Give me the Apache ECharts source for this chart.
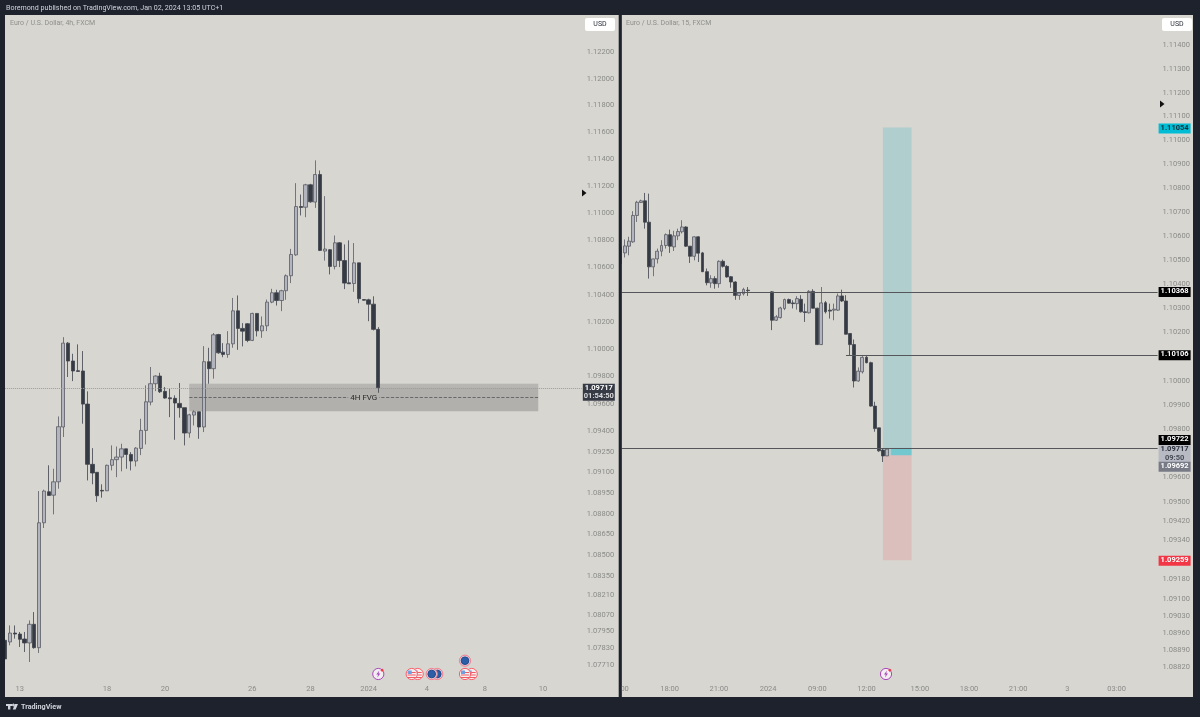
<!DOCTYPE html>
<html>
<head>
<meta charset="utf-8">
<title>EURUSD</title>
<script src="https://cdn.jsdelivr.net/npm/echarts@6/dist/echarts.min.js"></script>
<style>
html,body{margin:0;padding:0;background:#1e222d;}
#main{width:1200px;height:717px;}
</style>
</head>
<body>
<div id="main"></div>
<script>
// 4h panel
const leftOpen = [1.07887,1.07875,1.07939,1.07932,1.07896,1.07868,1.08002,1.07834,1.08735,1.08960,1.08935,1.09032,1.09431,1.10044,1.09913,1.09842,1.09840,1.09598,1.09159,1.09101,1.08970,1.08967,1.09152,1.09193,1.09212,1.09272,1.09231,1.09183,1.09275,1.09406,1.09613,1.09747,1.09803,1.09691,1.09644,1.09640,1.09603,1.09572,1.09387,1.09518,1.09542,1.09431,1.09908,1.09857,1.10107,1.09978,1.09961,1.10039,1.10281,1.10152,1.10186,1.10064,1.10262,1.10134,1.10171,1.10345,1.10414,1.10357,1.10429,1.10539,1.10693,1.11050,1.11045,1.11211,1.11083,1.11287,1.10721,1.10731,1.10608,1.10782,1.10651,1.10487,1.10482,1.10634,1.10364,1.10362,1.10330,1.10145];
const leftClose = [1.07753,1.07939,1.07932,1.07894,1.07868,1.08002,1.07834,1.08735,1.08965,1.08933,1.09032,1.09433,1.10044,1.09913,1.09840,1.09837,1.09598,1.09159,1.09096,1.08931,1.08965,1.09152,1.09193,1.09212,1.09272,1.09231,1.09183,1.09277,1.09406,1.09615,1.09747,1.09803,1.09688,1.09642,1.09637,1.09606,1.09572,1.09387,1.09520,1.09542,1.09431,1.09908,1.09857,1.10105,1.09973,1.09961,1.10039,1.10281,1.10152,1.10132,1.10064,1.10262,1.10134,1.10171,1.10345,1.10414,1.10357,1.10429,1.10539,1.10696,1.11050,1.11043,1.11211,1.11085,1.11287,1.10726,1.10736,1.10608,1.10782,1.10651,1.10485,1.10480,1.10634,1.10370,1.10359,1.10330,1.10145,1.09717];
const leftLow = [1.07730,1.07851,1.07899,1.07839,1.07803,1.07731,1.07827,1.07796,1.08697,1.08933,1.08796,1.08982,1.09358,1.09796,1.09766,1.09837,1.09455,1.09042,1.09014,1.08886,1.08917,1.08965,1.09115,1.09066,1.09108,1.09127,1.09115,1.09144,1.09226,1.09304,1.09589,1.09693,1.09679,1.09637,1.09503,1.09338,1.09499,1.09297,1.09353,1.09442,1.09345,1.09394,1.09747,1.09784,1.09966,1.09941,1.09937,1.10010,1.09995,1.10020,1.10051,1.10059,1.10093,1.10083,1.10132,1.10337,1.10320,1.10279,1.10362,1.10485,1.10686,1.10984,1.10971,1.11078,1.11040,1.10721,1.10651,1.10549,1.10586,1.10603,1.10441,1.10480,1.10421,1.10337,1.10357,1.10205,1.10137,1.09661];
const leftHigh = [1.07950,1.07994,1.07994,1.07947,1.07947,1.08030,1.08090,1.08965,1.08975,1.09152,1.09127,1.09508,1.10088,1.10052,1.09966,1.10035,1.09986,1.09691,1.09277,1.09101,1.09014,1.09157,1.09297,1.09289,1.09309,1.09272,1.09248,1.09284,1.09491,1.09735,1.09869,1.09808,1.09827,1.09723,1.09710,1.09662,1.09752,1.09572,1.09528,1.09552,1.09542,1.10022,1.10010,1.10118,1.10112,1.10044,1.10132,1.10376,1.10394,1.10191,1.10191,1.10267,1.10262,1.10240,1.10364,1.10443,1.10436,1.10436,1.10549,1.10737,1.11223,1.11139,1.11218,1.11218,1.11392,1.11317,1.11127,1.10736,1.10836,1.10787,1.10770,1.10800,1.10780,1.10634,1.10366,1.10370,1.10388,1.10161];
const leftPriceTicks = [1.122,1.12,1.118,1.116,1.114,1.112,1.11,1.108,1.106,1.104,1.102,1.1,1.098,1.096,1.094,1.0925,1.091,1.0895,1.088,1.0865,1.085,1.0835,1.0821,1.0807,1.0795,1.0783,1.0771];
const leftTimeBars = [3,21,33,51,63,75,87,99,111];
const leftTimeLabels = ['13','18','20','26','28','2024','4','8','10'];

// 15m panel, bars 32-36 have no data
const rightOpen = [1.10556,1.10531,1.10559,1.10577,1.10687,1.10741,1.10748,1.10659,1.10473,1.10506,1.10538,1.10562,1.10607,1.10556,1.10602,1.10619,1.10639,1.10559,1.10517,1.10598,1.10531,1.10453,1.10406,1.10424,1.10403,1.10496,1.10475,1.10432,1.10410,1.10354,1.10361,1.10376,null,null,null,null,null,1.10369,1.10251,1.10262,1.10300,1.10337,1.10323,1.10320,1.10338,1.10286,1.10282,1.10371,1.10301,1.10150,1.10324,1.10293,1.10293,1.10293,1.10352,1.10331,1.10196,1.10150,1.09999,1.10037,1.10097,1.10075,1.09895,1.09805,1.09713,1.09689];
const rightClose = [1.10487,1.10560,1.10580,1.10687,1.10742,1.10748,1.10659,1.10473,1.10506,1.10538,1.10562,1.10607,1.10559,1.10602,1.10620,1.10639,1.10559,1.10517,1.10598,1.10530,1.10453,1.10407,1.10424,1.10403,1.10496,1.10475,1.10431,1.10410,1.10354,1.10364,1.10379,1.10374,null,null,null,null,null,1.10251,1.10265,1.10302,1.10337,1.10322,1.10320,1.10341,1.10286,1.10283,1.10371,1.10301,1.10150,1.10323,1.10286,1.10289,1.10297,1.10352,1.10331,1.10193,1.10150,1.09999,1.10040,1.10097,1.10075,1.09895,1.09802,1.09710,1.09689,1.09717];
const rightLow = [1.10480,1.10512,1.10521,1.10573,1.10660,1.10739,1.10632,1.10424,1.10434,1.10487,1.10517,1.10549,1.10531,1.10539,1.10584,1.10612,1.10556,1.10489,1.10500,1.10493,1.10451,1.10396,1.10386,1.10382,1.10386,1.10470,1.10428,1.10386,1.10336,1.10336,1.10354,1.10352,null,null,null,null,null,1.10210,1.10248,1.10258,1.10293,1.10320,1.10300,1.10295,1.10283,1.10244,1.10279,1.10300,1.10148,1.10148,1.10279,1.10258,1.10251,1.10290,1.10327,1.10192,1.10106,1.09972,1.09996,1.10030,1.10072,1.09893,1.09789,1.09706,1.09664,1.09689];
const rightHigh = [1.10570,1.10587,1.10598,1.10705,1.10748,1.10753,1.10781,1.10778,1.10507,1.10549,1.10584,1.10612,1.10628,1.10623,1.10632,1.10667,1.10642,1.10559,1.10600,1.10600,1.10535,1.10466,1.10438,1.10434,1.10500,1.10503,1.10480,1.10435,1.10413,1.10367,1.10386,1.10389,null,null,null,null,null,1.10372,1.10272,1.10307,1.10341,1.10341,1.10334,1.10351,1.10355,1.10320,1.10376,1.10380,1.10303,1.10389,1.10331,1.10320,1.10320,1.10362,1.10378,1.10355,1.10196,1.10171,1.10055,1.10102,1.10105,1.10079,1.09913,1.09805,1.09720,1.09722];
const rightPriceTicks = [1.114,1.113,1.112,1.111,1.11,1.109,1.108,1.107,1.106,1.105,1.104,1.103,1.102,1.1,1.099,1.098,1.096,1.095,1.0942,1.0934,1.0918,1.091,1.0903,1.0896,1.0889,1.0882];
const rightTimeBars = [1,12,24,36,48,60,73,85,97,109,121];
const rightTimeLabels = ['00','18:00','21:00','2024','09:00','12:00','15:00','18:00','21:00','3','03:00'];

// drawn levels and tool
const fvgTop = 1.09747, fvgMid = 1.09648, fvgBottom = 1.09546;
const lastPrice = 1.09717;
const targetPrice = 1.11054, entryPrice = 1.09692, stopPrice = 1.09259;
const levelA = 1.10368, levelB = 1.10106, levelC = 1.09722;

const FONT = 'Roboto, "Noto Sans", sans-serif';
const BG = '#d7d6d1', DARK = '#1e222d', AXIS_TEXT = '#8b8b88';

function bars(o, c, l, h) {
  return o.map(function (v, i) { return [v, c[i], l[i], h[i]]; });
}
function indexList(n) {
  let r = [];
  for (let i = 0; i < n; i++) r.push(String(i));
  return r;
}
// price tag sitting on the axis at the end of a level line
function tag(value, text, bg, color, dy, lineStyle, fromBar, toBar) {
  return [{
    coord: [fromBar, value],
    lineStyle: lineStyle || { color: 'transparent', width: 0 },
    label: {
      show: true, position: 'end', distance: 1, formatter: text, offset: [0, dy],
      backgroundColor: bg, color: color, width: 32, height: dy === 4.5 ? 17 : 10,
      lineHeight: 8.5, align: 'left', fontFamily: FONT, fontSize: 7.5, fontWeight: 'bold',
      padding: [0, 0, 0, 0],
      rich: {
        c: { color: color, fontSize: 7.5, fontWeight: 'bold', fontFamily: FONT, width: 32, align: 'center' },
        t: { color: color, fontSize: 7.5, fontFamily: FONT, width: 32, align: 'center', opacity: .8 }
      }
    }
  }, { coord: [toBar, value] }];
}

const LAST_L = 119, LAST_R = 131;
const tv = { type: 'solid', color: '#55565a', width: 1 };
const candleStyle = { color: '#b2b5be', color0: '#363a45', borderColor: '#5a5c64', borderColor0: '#3f424b', borderWidth: .8 };

const option = {
  animation: false,
  backgroundColor: DARK,
  grid: [
    { left: 5.15, top: 15, width: 4.846 * LAST_L, height: 665, containLabel: false },
    { left: 620.5, top: 15, width: 4.1 * LAST_R, height: 665, containLabel: false }
  ],
  xAxis: [0, 1].map(function (i) {
    const t = i === 0 ? [LAST_L, leftTimeBars, leftTimeLabels] : [LAST_R, rightTimeBars, rightTimeLabels];
    return {
      type: 'category', gridIndex: i, boundaryGap: false, data: indexList(t[0] + 1),
      axisLine: { show: false }, axisTick: { show: false }, splitLine: { show: false },
      axisLabel: {
        customValues: t[1], margin: 5, color: AXIS_TEXT, fontSize: 7.5, fontFamily: FONT,
        hideOverlap: false,
        formatter: function (v) { return t[2][t[1].indexOf(+v)]; }
      }
    };
  }),
  yAxis: [
    { gridIndex: 0, min: 1.07602, max: 1.12476, ticks: leftPriceTicks },
    { gridIndex: 1, min: 1.08767, max: 1.11526, ticks: rightPriceTicks }
  ].map(function (a) {
    return {
      type: 'log', logBase: 10, gridIndex: a.gridIndex, position: 'right', min: a.min, max: a.max, scale: true,
      axisLine: { show: false }, axisTick: { show: false }, splitLine: { show: false },
      axisLabel: {
        customValues: a.ticks, margin: 5, color: AXIS_TEXT, fontSize: 7.5, fontFamily: FONT,
        formatter: function (v) { return (+v).toFixed(5); }
      }
    };
  }),
  series: [
    {
      type: 'candlestick', name: '4h', xAxisIndex: 0, yAxisIndex: 0, barWidth: 3.8,
      data: bars(leftOpen, leftClose, leftLow, leftHigh),
      itemStyle: candleStyle,
      markArea: {
        silent: true, z: 1,
        data: [
          [{ coord: [38, fvgTop], itemStyle: { color: 'rgba(90,90,90,.3)' } }, { coord: [110, fvgBottom] }],
          [{ coord: [38, fvgTop], itemStyle: { color: 'rgba(255,255,255,.08)' } }, { coord: [110, lastPrice] }]
        ]
      },
      markLine: {
        silent: true, symbol: 'none', animation: false,
        data: [
          [{
            coord: [38, fvgMid], lineStyle: { type: 'dashed', color: '#55565a', width: .8 },
            label: { show: true, position: 'middle', formatter: '4H FVG', offset: [0, 10.5], color: '#2a2a2a', fontSize: 8, fontFamily: FONT, backgroundColor: '#b2b1ae', padding: [1, 2] }
          }, { coord: [110, fvgMid] }],
          tag(lastPrice, '{c|1.09717}\n{t|01:54:50}', '#363a45', '#fff', 4.5, { type: 'dotted', color: '#9c9c98', width: 1 }, 0, LAST_L)
        ]
      }
    },
    {
      type: 'candlestick', name: '15', xAxisIndex: 1, yAxisIndex: 1, barWidth: 3.4,
      data: bars(rightOpen, rightClose, rightLow, rightHigh),
      itemStyle: candleStyle,
      markArea: {
        silent: true, z: 1,
        data: [
          [{ coord: [64, targetPrice], itemStyle: { color: 'rgba(0,170,190,.18)' } }, { coord: [71, entryPrice] }],
          [{ coord: [64, entryPrice], itemStyle: { color: 'rgba(240,80,90,.17)' } }, { coord: [71, stopPrice] }],
          [{ coord: [66, levelC], itemStyle: { color: 'rgba(0,190,210,.35)' } }, { coord: [71, entryPrice] }]
        ]
      },
      markLine: {
        silent: true, symbol: 'none', animation: false,
        data: [
          tag(levelA, '{c|1.10368}', '#000', '#fff', 0, tv, 0, LAST_R),
          tag(levelB, '{c|1.10106}', '#000', '#fff', 0, tv, 55, LAST_R),
          tag(levelC, '{c|1.09722}', '#000', '#fff', -8, tv, 0, LAST_R),
          tag(lastPrice, '{c|1.09717}\n{t|09:50}', '#b7bac3', '#2a2e39', 4.5, null, 0, LAST_R),
          tag(entryPrice, '{c|1.09692}', '#787b86', '#fff', 11.5, null, 0, LAST_R),
          tag(targetPrice, '{c|1.11054}', '#00bcd4', '#13323a', 1, null, 0, LAST_R),
          tag(stopPrice, '{c|1.09259}', '#f23645', '#fff', 0.5, null, 0, LAST_R)
        ]
      }
    }
  ],
  graphic: { elements: [] }
};

// chrome: panels, captions, buttons, event marks
function rect(x, y, w, h, fill, z, r) {
  return { type: 'rect', silent: true, z: z, shape: { x: x, y: y, width: w, height: h, r: r || 0 }, style: { fill: fill } };
}
function text(x, y, s, fill, size, weight, align) {
  return { type: 'text', silent: true, z: 60, x: x, y: y, style: { text: s, fill: fill, fontSize: size, fontWeight: weight || 'normal', fontFamily: FONT, align: align || 'left', verticalAlign: 'middle' } };
}
function circle(x, y, r, fill, stroke, z) {
  return { type: 'circle', silent: true, z: z, shape: { cx: x, cy: y, r: r }, style: { fill: fill, stroke: stroke, lineWidth: 1 } };
}
function poly(points, fill, z) {
  return { type: 'polygon', silent: true, z: z, shape: { points: points }, style: { fill: fill } };
}
function flagMark(x, y, z) {
  const out = [circle(x, y, 5.6, '#f5eeee', '#f7606c', z)];
  [-2, 0.5, 3].forEach(function (d) { out.push(rect(x - 4, y + d, 8, 1, '#ef5a64', z)); });
  out.push(rect(x - 4, y - 3.5, 4, 3.5, '#6f9fe0', z));
  return out;
}
function discMark(x, y, z) {
  return [circle(x, y, 5.6, '#dfc7d8', '#f0808c', z), circle(x, y, 3.8, '#2c5ea8', '#1f4a8c', z)];
}
function boltMark(x, y) {
  return [
    circle(x, y, 5.6, '#f2eef2', '#ab47bc', 30),
    poly([[x + 1, y - 3.4], [x - 2, y + 0.6], [x - 0.2, y + 0.6], [x - 1, y + 3.4], [x + 2, y - 0.6], [x + 0.2, y - 0.6]], '#ab47bc', 31),
    circle(x + 3.8, y - 3.8, 1, '#f23645', '#f23645', 32)
  ];
}
let els = [
  rect(5, 15, 614, 682, BG, -10),
  rect(621.6, 15, 571.4, 682, BG, -10),
  rect(618.7, 15, 2.9, 682, DARK, 50),
  rect(0, 15, 5, 682, DARK, 50),
  text(6, 8, 'Boremond published on TradingView.com, Jan 02, 2024 13:05 UTC+1', '#d1d4dc', 7.1),
  text(10, 23.5, 'Euro / U.S. Dollar, 4h, FXCM', '#8f8f8b', 7),
  text(626, 23.5, 'Euro / U.S. Dollar, 15, FXCM', '#8f8f8b', 7),
  rect(585, 18, 30, 13, '#fff', 55, 2),
  rect(1162, 18, 30, 13, '#fff', 55, 2),
  text(600, 24.5, 'USD', '#2a2e39', 7, 'normal', 'center'),
  text(1177, 24.5, 'USD', '#2a2e39', 7, 'normal', 'center'),
  poly([[582, 189.5], [586.5, 193], [582, 196.5]], '#111', 55),
  poly([[1160, 100.5], [1164.5, 104], [1160, 107.5]], '#111', 55),
  // footer logo and name
  rect(6, 704, 6, 2, '#d1d4dc', 60),
  rect(8, 704, 2.4, 5.5, '#d1d4dc', 60),
  circle(13.4, 705, 1, '#d1d4dc', '#d1d4dc', 60),
  poly([[15, 704], [18, 704], [15.6, 709.5], [12.8, 709.5]], '#d1d4dc', 60),
  text(21, 707, 'TradingView', '#d1d4dc', 7.2, 'bold')
];
els = els.concat(boltMark(378.3, 674), boltMark(886, 674));
els = els.concat(flagMark(417.7, 674, 30), flagMark(411.7, 674, 31));
els = els.concat(discMark(437.3, 674, 30), discMark(431.7, 674, 31));
els = els.concat(flagMark(471.7, 674, 30), flagMark(465, 674, 31));
els = els.concat(discMark(465, 660.7, 31));
option.graphic.elements = els;

const chart = echarts.init(document.getElementById('main'));
chart.setOption(option);
</script>
</body>
</html>
